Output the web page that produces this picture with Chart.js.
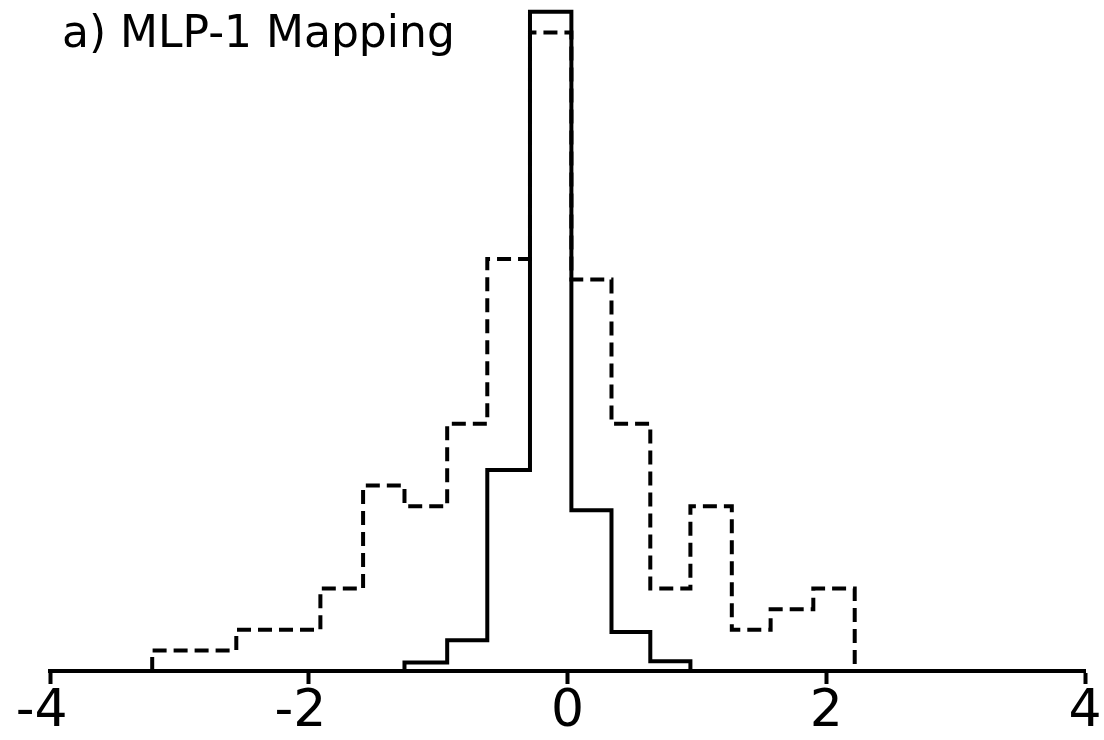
<!DOCTYPE html>
<html>
<head>
<meta charset="utf-8">
<script src="https://cdn.jsdelivr.net/npm/chart.js@4"></script>
<style>
html, body { margin: 0; padding: 0; background: #fff; }
#wrap { width: 1104px; height: 740px; }
</style>
</head>
<body>
<div id="wrap"><canvas id="histChart" width="1104" height="740"></canvas></div>
<script>
// histogram bins (shared by both distributions)
var binEdges = [-3.21, -2.89, -2.56, -2.23, -1.91, -1.58, -1.26, -0.93, -0.62, -0.29, 0.03, 0.34, 0.64, 0.95, 1.27, 1.57, 1.90, 2.22];
var dashedCounts = [1, 1, 2, 2, 4, 9, 8, 12, 20, 31, 19, 12, 4, 8, 2, 3, 4];
var solidCounts = [0, 0, 0, 0, 0, 0, 0.41, 1.49, 9.76, 32, 7.8, 1.89, 0.47, 0, 0, 0, 0];
var tickLabels = ["-4", "-2", "0", "2", "4"];
var titleText = "a) MLP-1 Mapping";

// turn bin edges + counts into an outline for a stepped line
function outline(edges, counts) {
    var first = counts.findIndex(c => c > 0);
    var last = counts.length - 1;
    while (counts[last] === 0) last--;
    var pts = [{x: edges[first], y: 0}];
    for (var i = first; i <= last; i++) {
        pts.push({x: edges[i], y: counts[i]});
    }
    pts.push({x: edges[last + 1], y: 0});
    return pts;
}

var titlePlugin = {
    id: "cornerTitle",
    afterDraw: function(chart) {
        var c = chart.ctx;
        c.save();
        c.fillStyle = "#000";
        c.font = '44px "DejaVu Sans"';
        c.textBaseline = "alphabetic";
        c.fillText(titleText, 62, 47);
        c.restore();
    }
};

var ctx = document.getElementById("histChart").getContext("2d");
var histChart = new Chart(ctx, {
    type: "line",
    data: {
        datasets: [{
            label: "dashed",
            data: outline(binEdges, dashedCounts),
            stepped: "before",
            borderColor: "#000",
            borderWidth: 4,
            borderDash: [14, 7],
            pointRadius: 0,
            fill: false,
            clip: false
        }, {
            label: "solid",
            data: outline(binEdges, solidCounts),
            stepped: "before",
            borderColor: "#000",
            borderWidth: 4,
            pointRadius: 0,
            fill: false,
            clip: false
        }]
    },
    options: {
        responsive: false,
        animation: false,
        layout: {
            padding: {left: 50, right: 19, top: 3.6, bottom: 0}
        },
        plugins: {
            legend: {display: false},
            tooltip: {enabled: false},
            title: {display: false}
        },
        scales: {
            x: {
                type: "linear",
                min: -4,
                max: 4,
                grid: {
                    drawOnChartArea: false,
                    drawTicks: true,
                    tickLength: 13,
                    tickWidth: 4,
                    tickColor: "#000"
                },
                border: {display: true, width: 4, color: "#000"},
                ticks: {
                    stepSize: 2,
                    autoSkip: false,
                    maxRotation: 0,
                    padding: 2,
                    color: "#000",
                    font: {family: "DejaVu Sans", size: 52, lineHeight: 1},
                    // keep the digit over the tick; the minus sign hangs to the left
                    callback: function(value, i) {
                        var s = tickLabels[i];
                        return s.charAt(0) === "-" ? s + "\u2008" : s;
                    }
                }
            },
            y: {
                display: false,
                min: 0,
                max: 32.4
            }
        }
    },
    plugins: [titlePlugin]
});
</script>
</body>
</html>
